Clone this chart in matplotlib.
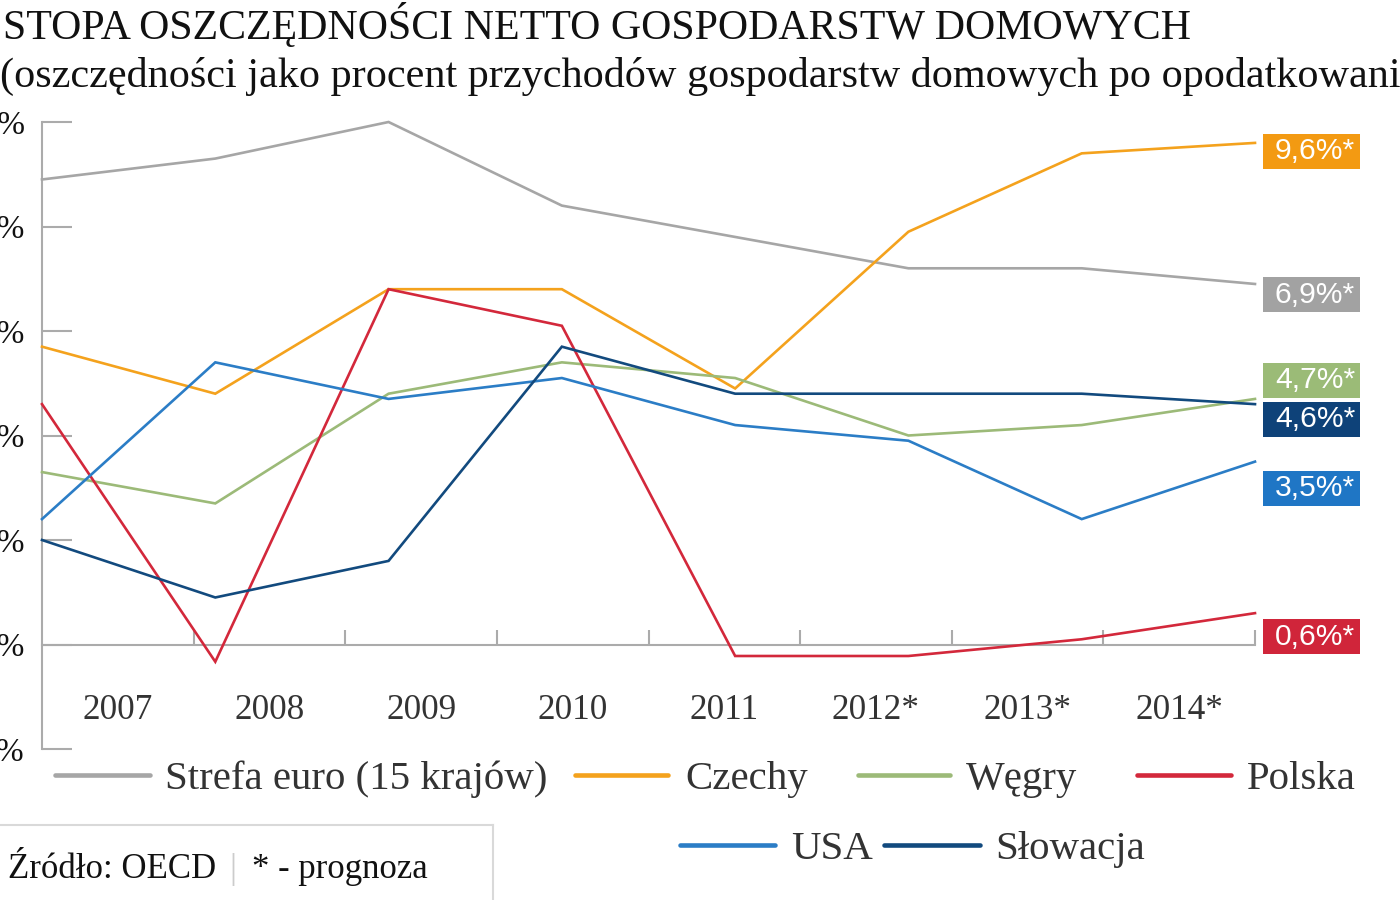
import matplotlib
matplotlib.use('Agg')
import matplotlib.pyplot as plt
from matplotlib.lines import Line2D
from matplotlib.patches import Rectangle
from matplotlib import font_manager
import matplotlib.transforms as mtrans

# ---------------- data ----------------
years = ['2007', '2008', '2009', '2010', '2011', '2012*', '2013*', '2014*']
series_names = ['Strefa euro (15 krajów)', 'Czechy', 'Węgry', 'Polska', 'USA', 'Słowacja']
strefa_euro = [8.9, 9.3, 10.0, 8.4, 7.8, 7.2, 7.2, 6.9]
czechy = [5.7, 4.8, 6.8, 6.8, 4.9, 7.9, 9.4, 9.6]
wegry = [3.3, 2.7, 4.8, 5.4, 5.1, 4.0, 4.2, 4.7]
polska = [4.6, -0.33, 6.8, 6.1, -0.22, -0.22, 0.1, 0.6]
usa = [2.4, 5.4, 4.7, 5.1, 4.2, 3.9, 2.4, 3.5]
slowacja = [2.0, 0.9, 1.6, 5.7, 4.8, 4.8, 4.8, 4.6]
end_labels = ['6,9%*', '9,6%*', '4,7%*', '0,6%*', '3,5%*', '4,6%*']
yticks = [-2, 0, 2, 4, 6, 8, 10]
ytick_labels = ['-2%', '0%', '2%', '4%', '6%', '8%', '10%']

# ---------------- style ----------------
line_colors = ['#a6a6a6', '#f4a21d', '#9cba78', '#d3283b', '#2b7dc6', '#124a7e']
box_colors = ['#a2a2a2', '#f39a12', '#9bbb77', '#d0253a', '#1f76c5', '#0e4279']
box_centers = [6.69, 9.44, 5.06, 0.15, 2.99, 4.31]
axis_gray = '#ababab'
SERIF = 'Liberation Serif'
names = {f.name for f in font_manager.fontManager.ttflist}
BOXFONT = 'Liberation Sans Narrow' if 'Liberation Sans Narrow' in names else 'Liberation Sans'

W, H = 1400, 900
fig = plt.figure(figsize=(14, 9), dpi=100)
r = fig.canvas.get_renderer()


def fx(px):
    return px / W


def fy(py):
    return 1 - py / H


def fit_size(s, target_w, family=SERIF, base=20):
    t = fig.text(0, 0, s, fontsize=base, family=family)
    w = t.get_window_extent(renderer=r).width
    t.remove()
    return base * target_w / w


left, right, top, bottom = 42, 1255, 122, 749
ax = fig.add_axes([fx(left), fy(bottom), (right - left) / W, (bottom - top) / H])
ax.set_xlim(0, 7)
ax.set_ylim(-2, 10)

series = [strefa_euro, czechy, wegry, polska, usa, slowacja]
xs = list(range(len(years)))
for vals, c in zip(series, line_colors):
    ax.plot(xs, vals, color=c, lw=1.9, solid_joinstyle='miter', clip_on=False, zorder=3)

# spines
for s in ['top', 'right']:
    ax.spines[s].set_visible(False)
ax.spines['left'].set_color(axis_gray)
ax.spines['left'].set_linewidth(1.5)
ax.spines['bottom'].set_position(('data', 0))
ax.spines['bottom'].set_color(axis_gray)
ax.spines['bottom'].set_linewidth(1.5)

ax.set_yticks(yticks)
ax.set_yticklabels(ytick_labels, family=SERIF, fontsize=24, color='#111111')
ax.tick_params(axis='y', direction='in', length=21.6, width=1.5, color=axis_gray, pad=12.5)

nb = len(years)
band_edges = [7 / nb * k for k in range(1, nb + 1)]
ax.set_xticks(band_edges)
ax.set_xticklabels([''] * nb)
ax.tick_params(axis='x', direction='in', length=10.8, width=1.5, color=axis_gray)

# year labels centred in bands
yr_size = fit_size('2007', 70)
btrans = mtrans.blended_transform_factory(ax.transData, fig.transFigure)
for k, lab in enumerate(years):
    ax.text(7 / nb * (k + 0.5), fy(719), lab, transform=btrans, ha='center', va='baseline',
            family=SERIF, fontsize=yr_size, color='#333333')

# end value boxes
kx = 7 / (right - left)
ky = 12 / (bottom - top)
box_size = fit_size('9,6%*', 80, family=BOXFONT)
for lab, cy, bc in zip(end_labels, box_centers, box_colors):
    ax.add_patch(Rectangle((7 + 8 * kx, cy - 17.5 * ky), 97 * kx, 35 * ky, facecolor=bc,
                           edgecolor='none', clip_on=False, zorder=4))
    ax.text(7 + 60 * kx, cy, lab, ha='center', va='center', color='white',
            family=BOXFONT, fontsize=box_size, clip_on=False, zorder=5)

# title & subtitle
t_size = fit_size('STOPA OSZCZĘDNOŚCI NETTO GOSPODARSTW DOMOWYCH', 1187)
fig.text(fx(3), fy(39), 'STOPA OSZCZĘDNOŚCI NETTO GOSPODARSTW DOMOWYCH', family=SERIF,
         fontsize=t_size, color='#111111', va='baseline', ha='left')
s_size = fit_size('(oszczędności jako procent przychodów gospodarstw domowych po opodatkowani', 1398)
fig.text(fx(0), fy(87), '(oszczędności jako procent przychodów gospodarstw domowych po opodatkowaniu)',
         family=SERIF, fontsize=s_size, color='#111111', va='baseline', ha='left')

# legend (manual layout)
leg_size = fit_size(series_names[0], 383)
leg_pos = [(55, 150, 165, 775), (575, 668, 685, 775), (858, 950, 966, 775),
           (1137, 1231, 1247, 775), (680, 775, 791, 845), (884, 980, 995, 845)]
for name, c, (x0, x1, xt, yl) in zip(series_names, line_colors, leg_pos):
    fig.add_artist(Line2D([fx(x0), fx(x1)], [fy(yl), fy(yl)], color=c, lw=3.3,
                          solid_capstyle='round', transform=fig.transFigure))
    fig.text(fx(xt), fy(yl), name, family=SERIF, fontsize=leg_size, color='#333333',
             va='center_baseline', ha='left')

# source box
src_gray = '#d9d9d9'
fig.add_artist(Line2D([0, fx(493)], [fy(825), fy(825)], color=src_gray, lw=1.5, transform=fig.transFigure))
fig.add_artist(Line2D([fx(493), fx(493)], [fy(825), fy(900)], color=src_gray, lw=1.5, transform=fig.transFigure))
src_size = fit_size('Źródło: OECD', 207)
fig.text(fx(8), fy(878), 'Źródło: OECD', family=SERIF, fontsize=src_size, color='#111111', va='baseline')
fig.text(fx(233), fy(878), '|', family=SERIF, fontsize=src_size, color='#cccccc', va='baseline', ha='center')
fig.text(fx(252), fy(878), '* - prognoza', family=SERIF, fontsize=src_size, color='#111111', va='baseline')

fig.savefig('out.png', dpi=100)
